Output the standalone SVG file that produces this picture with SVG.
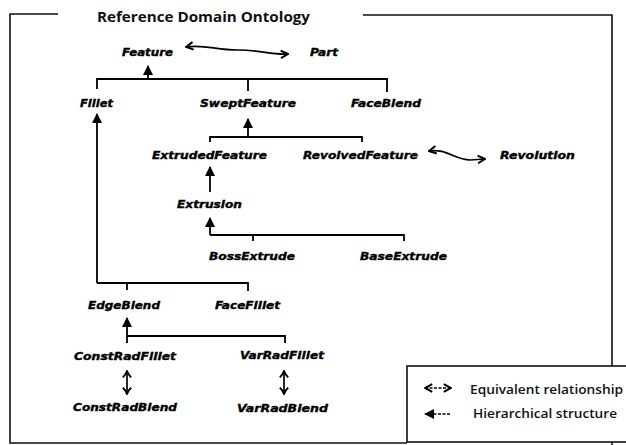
<svg xmlns="http://www.w3.org/2000/svg" width="626" height="445" viewBox="0 0 626 445">
  <style>
    .node { font-family: "DejaVu Sans", Verdana, sans-serif; font-size: 10px; font-weight: bold; font-style: italic; fill: #000; stroke: #000; stroke-width: 0.35; text-anchor: middle; }
    .title { font-family: "Open Sans", "DejaVu Sans", sans-serif; font-size: 15px; font-weight: 700; fill: #111; }
    .legend-text { font-family: "Open Sans", "DejaVu Sans", sans-serif; font-size: 13px; font-weight: 600; fill: #111; }
    .frame { fill: none; stroke: #111; stroke-width: 1.6; }
    .isa { fill: none; stroke: #000; stroke-width: 1.8; }
    .equiv { fill: none; stroke: #000; stroke-width: 1.7; }
  </style>
  <defs>
    <marker id="head" viewBox="0 0 10 10" refX="9" refY="5" markerUnits="userSpaceOnUse" markerWidth="11" markerHeight="10" orient="auto">
      <path d="M0,0 L10,5 L0,10 z" fill="#000"/>
    </marker>
    <marker id="open" viewBox="0 0 10 10" refX="9" refY="5" markerUnits="userSpaceOnUse" markerWidth="9" markerHeight="11" orient="auto-start-reverse">
      <path d="M1,0.8 L9,5 L1,9.2" fill="none" stroke="#000" stroke-width="2.2"/>
    </marker>
    <marker id="curl" viewBox="0 0 10 12" refX="9" refY="6" markerUnits="userSpaceOnUse" markerWidth="8" markerHeight="12" orient="auto-start-reverse">
      <path d="M1,0.8 Q4,4 9,6 Q4,8 1,11.2" fill="none" stroke="#000" stroke-width="2.4"/>
    </marker>
  </defs>

  <rect width="626" height="445" fill="#fff"/>

  <!-- outer frame with title gap -->
  <g id="frame">
    <path class="frame" d="M58,14 H10 V443 H407"/>
    <path class="frame" d="M363,15 H612 V366"/>
    <path class="frame" d="M612,442 V445"/>
    <text class="title" x="97" y="22" textLength="213" lengthAdjust="spacingAndGlyphs">Reference Domain Ontology</text>
  </g>

  <!-- connectors -->
  <g id="connectors">
    <!-- Feature subtypes -->
    <path class="isa" d="M97,89 V79 H387 V92 M248,79 V91"/>
    <line class="isa" x1="148" y1="79" x2="148" y2="66" marker-end="url(#head)"/>
    <!-- Fillet subtypes -->
    <line class="isa" x1="97" y1="283" x2="97" y2="114" marker-end="url(#head)"/>
    <path class="isa" d="M97,283 H248 V291 M127,283 V290"/>
    <!-- SweptFeature subtypes -->
    <path class="isa" d="M210,142 V137 H362 V142"/>
    <line class="isa" x1="248" y1="137" x2="248" y2="119" marker-end="url(#head)"/>
    <!-- Extrusion -> ExtrudedFeature -->
    <line class="isa" x1="210" y1="192" x2="210" y2="167" marker-end="url(#head)"/>
    <!-- BossExtrude / BaseExtrude -> Extrusion -->
    <path class="isa" d="M210,235 H404 V241 M253,235 V241"/>
    <line class="isa" x1="210" y1="235" x2="210" y2="218" marker-end="url(#head)"/>
    <!-- ConstRadFillet / VarRadFillet -> EdgeBlend -->
    <path class="isa" d="M127,336 H285 V343"/>
    <line class="isa" x1="127" y1="343" x2="127" y2="318" marker-end="url(#head)"/>

    <!-- equivalences -->
    <path class="equiv" d="M186,47 C205,44 215,50 238,50 C262,50 270,55 288,54" marker-start="url(#open)" marker-end="url(#open)"/>
    <path class="equiv" d="M429,151 C446,148 455,160 470,160 L485,159" marker-start="url(#open)" marker-end="url(#open)"/>
    <line class="equiv" x1="127" y1="371" x2="127" y2="394" stroke-width="2.4" marker-start="url(#curl)" marker-end="url(#curl)"/>
    <line class="equiv" x1="284" y1="371" x2="284" y2="394" stroke-width="2.4" marker-start="url(#curl)" marker-end="url(#curl)"/>
  </g>

  <!-- nodes -->
  <g id="n-feature"><text class="node" x="147.5" y="56" textLength="51" lengthAdjust="spacingAndGlyphs">Feature</text></g>
  <g id="n-part"><text class="node" x="324" y="56" textLength="28" lengthAdjust="spacingAndGlyphs">Part</text></g>
  <g id="n-fillet"><text class="node" x="96.5" y="107" textLength="33" lengthAdjust="spacingAndGlyphs">Fillet</text></g>
  <g id="n-sweptfeature"><text class="node" x="248" y="107" textLength="96" lengthAdjust="spacingAndGlyphs">SweptFeature</text></g>
  <g id="n-faceblend"><text class="node" x="386" y="107" textLength="70" lengthAdjust="spacingAndGlyphs">FaceBlend</text></g>
  <g id="n-extrudedfeature"><text class="node" x="209.5" y="159" textLength="115" lengthAdjust="spacingAndGlyphs">ExtrudedFeature</text></g>
  <g id="n-revolvedfeature"><text class="node" x="360.5" y="159" textLength="115" lengthAdjust="spacingAndGlyphs">RevolvedFeature</text></g>
  <g id="n-revolution"><text class="node" x="537.5" y="159" textLength="75" lengthAdjust="spacingAndGlyphs">Revolution</text></g>
  <g id="n-extrusion"><text class="node" x="209.5" y="208" textLength="65" lengthAdjust="spacingAndGlyphs">Extrusion</text></g>
  <g id="n-bossextrude"><text class="node" x="252" y="260" textLength="86" lengthAdjust="spacingAndGlyphs">BossExtrude</text></g>
  <g id="n-baseextrude"><text class="node" x="403.5" y="260" textLength="87" lengthAdjust="spacingAndGlyphs">BaseExtrude</text></g>
  <g id="n-edgeblend"><text class="node" x="124" y="309" textLength="72" lengthAdjust="spacingAndGlyphs">EdgeBlend</text></g>
  <g id="n-facefillet"><text class="node" x="247.5" y="309" textLength="65" lengthAdjust="spacingAndGlyphs">FaceFillet</text></g>
  <g id="n-constradfillet"><text class="node" x="125" y="360" textLength="102" lengthAdjust="spacingAndGlyphs">ConstRadFillet</text></g>
  <g id="n-varradfillet"><text class="node" x="282" y="359" textLength="84" lengthAdjust="spacingAndGlyphs">VarRadFillet</text></g>
  <g id="n-constradblend"><text class="node" x="125" y="411" textLength="104" lengthAdjust="spacingAndGlyphs">ConstRadBlend</text></g>
  <g id="n-varradblend"><text class="node" x="282.5" y="412" textLength="91" lengthAdjust="spacingAndGlyphs">VarRadBlend</text></g>

  <!-- legend -->
  <g id="legend">
    <rect x="407" y="366" width="230" height="76" fill="#fff" stroke="#111" stroke-width="1.6"/>
    <line x1="425" y1="388" x2="451" y2="388" stroke="#000" stroke-width="1.5" stroke-dasharray="3 1.5" marker-start="url(#open)" marker-end="url(#open)"/>
    <line x1="450" y1="414" x2="425" y2="414" stroke="#000" stroke-width="1.5" stroke-dasharray="3 1.5" marker-end="url(#head)"/>
    <text class="legend-text" x="470" y="394" textLength="153" lengthAdjust="spacingAndGlyphs">Equivalent relationship</text>
    <text class="legend-text" x="473" y="418" textLength="144" lengthAdjust="spacingAndGlyphs">Hierarchical structure</text>
  </g>
</svg>
